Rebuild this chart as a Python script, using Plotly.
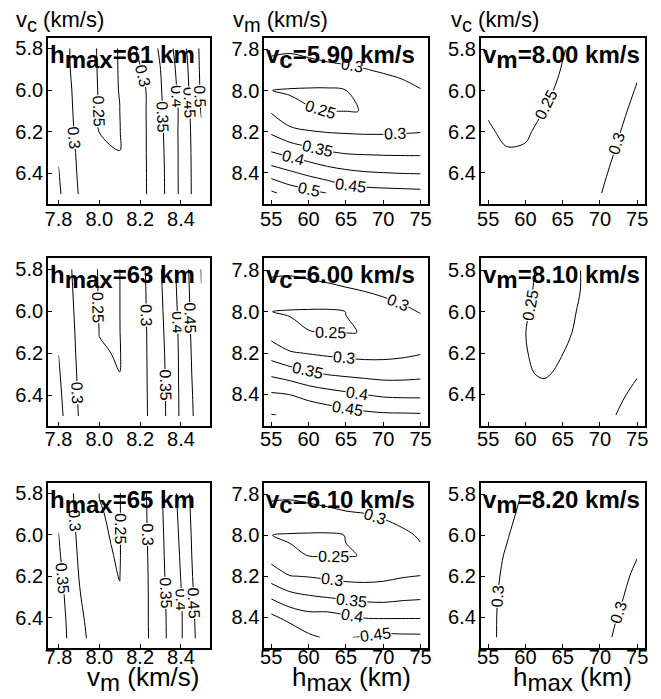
import math
import plotly.graph_objects as go

PAGE_W, PAGE_H = 661, 699
OFF = 8  # the page body places the figure 8 px from the top-left corner
W, H = PAGE_W - OFF, PAGE_H - OFF
FONT = "Liberation Sans, Arial, Helvetica, sans-serif"

# grids
vm_grid = [7.8, 7.9, 8.0, 8.1, 8.2, 8.3, 8.4, 8.5]
vc_grid = [5.8, 5.9, 6.0, 6.1, 6.2, 6.3, 6.4, 6.5]
hmax_grid = [55, 57.5, 60, 62.5, 65, 67.5, 70, 72.5, 75]

# column 1: misfit vs (vm, vc) at fixed hmax ; rows = vc, cols = vm
z_hmax61 = [
    [0.322, 0.282, 0.245, 0.2506, 0.3125, 0.356, 0.428, 0.510],
    [0.326, 0.281, 0.246, 0.2504, 0.2974, 0.3501, 0.419, 0.509],
    [0.330, 0.284, 0.247, 0.2502, 0.2819, 0.3465, 0.414, 0.5066],
    [0.335, 0.285, 0.248, 0.2499, 0.2824, 0.3432, 0.409, 0.503],
    [0.340, 0.287, 0.2495, 0.2491, 0.2828, 0.3401, 0.4106, 0.494],
    [0.346, 0.291, 0.260, 0.2501, 0.2838, 0.3377, 0.410, 0.4916],
    [0.352, 0.294, 0.270, 0.260, 0.2839, 0.3358, 0.4104, 0.4896],
    [0.357, 0.298, 0.280, 0.270, 0.284, 0.335, 0.410, 0.489],
]
z_hmax63 = [
    [0.318, 0.2903, 0.246, 0.2497, 0.2843, 0.3471, 0.4186, 0.5012],
    [0.323, 0.2901, 0.247, 0.2497, 0.2828, 0.3443, 0.4157, 0.4994],
    [0.330, 0.290, 0.248, 0.2497, 0.2823, 0.3414, 0.4129, 0.4972],
    [0.340, 0.290, 0.2495, 0.2495, 0.2819, 0.3384, 0.4109, 0.4941],
    [0.3495, 0.2906, 0.252, 0.2485, 0.2827, 0.3351, 0.4097, 0.4903],
    [0.355, 0.2932, 0.260, 0.2502, 0.2829, 0.3333, 0.4091, 0.4863],
    [0.360, 0.2955, 0.270, 0.258, 0.2831, 0.3315, 0.4085, 0.4813],
    [0.365, 0.298, 0.280, 0.268, 0.2827, 0.3308, 0.4077, 0.4782],
]
z_hmax65 = [
    [0.330, 0.2889, 0.2499, 0.249, 0.2804, 0.3435, 0.416, 0.4951],
    [0.340, 0.2887, 0.25033, 0.249, 0.2795, 0.3416, 0.412, 0.4946],
    [0.351, 0.291, 0.25089, 0.249, 0.2786, 0.3397, 0.4082, 0.4918],
    [0.356, 0.2951, 0.25233, 0.249, 0.2777, 0.338, 0.4047, 0.4902],
    [0.362, 0.2994, 0.25345, 0.2497, 0.2767, 0.3364, 0.4013, 0.4867],
    [0.368, 0.3044, 0.260, 0.251, 0.2773, 0.3341, 0.3975, 0.4822],
    [0.372, 0.310, 0.270, 0.258, 0.2778, 0.3333, 0.3951, 0.4771],
    [0.376, 0.3117, 0.280, 0.266, 0.2775, 0.3324, 0.3953, 0.4734],
]

# column 2: misfit vs (hmax, vm) at fixed vc ; rows = vm, cols = hmax
z_vc590 = [
    [0.310, 0.306, 0.314, 0.324, 0.329, 0.326, 0.330, 0.335, 0.340],
    [0.280, 0.276, 0.279, 0.284, 0.290, 0.298, 0.305, 0.312, 0.320],
    [0.2502, 0.2475, 0.246, 0.245, 0.2495, 0.274, 0.275, 0.285, 0.298],
    [0.295, 0.258, 0.2515, 0.2497, 0.2496, 0.2502, 0.256, 0.265, 0.275],
    [0.342, 0.314, 0.303, 0.2976, 0.2954, 0.2935, 0.2936, 0.2954, 0.2981],
    [0.401, 0.383, 0.367, 0.353, 0.345, 0.3425, 0.341, 0.3405, 0.3404],
    [0.476, 0.457, 0.438, 0.421, 0.410, 0.4033, 0.4001, 0.3976, 0.3964],
    [0.560, 0.529, 0.515, 0.4995, 0.477, 0.470, 0.467, 0.465, 0.4627],
]
z_vc600 = [
    [0.310, 0.308, 0.313, 0.318, 0.322, 0.325, 0.330, 0.335, 0.340],
    [0.280, 0.278, 0.283, 0.288, 0.295, 0.3005, 0.308, 0.315, 0.320],
    [0.2502, 0.2475, 0.246, 0.245, 0.2502, 0.272, 0.280, 0.291, 0.302],
    [0.281, 0.258, 0.2505, 0.2497, 0.249, 0.2507, 0.260, 0.270, 0.280],
    [0.327, 0.3047, 0.2976, 0.2916, 0.2868, 0.2836, 0.2855, 0.290, 0.2972],
    [0.391, 0.375, 0.358, 0.347, 0.3406, 0.3357, 0.3316, 0.3325, 0.3368],
    [0.456, 0.4495, 0.431, 0.419, 0.409, 0.4001, 0.3917, 0.3893, 0.3889],
    [0.502, 0.495, 0.494, 0.481, 0.472, 0.4625, 0.458, 0.457, 0.4556],
]
z_vc610 = [
    [0.310, 0.308, 0.313, 0.318, 0.322, 0.326, 0.330, 0.335, 0.340],
    [0.280, 0.278, 0.283, 0.288, 0.295, 0.298, 0.305, 0.313, 0.323],
    [0.2502, 0.2475, 0.246, 0.245, 0.2506, 0.274, 0.280, 0.292, 0.304],
    [0.2818, 0.2538, 0.2497, 0.2495, 0.249, 0.2507, 0.262, 0.274, 0.2926],
    [0.3265, 0.3014, 0.2976, 0.2916, 0.2854, 0.2847, 0.2891, 0.2966, 0.3002],
    [0.3925, 0.3654, 0.3538, 0.347, 0.340, 0.3344, 0.3323, 0.3386, 0.3422],
    [0.460, 0.4324, 0.4167, 0.4179, 0.4067, 0.3969, 0.3947, 0.3952, 0.3955],
    [0.495, 0.491, 0.4583, 0.445, 0.448, 0.4535, 0.4622, 0.4613, 0.4605],
]

# column 3: misfit vs (hmax, vc) at fixed vm ; rows = vc, cols = hmax
z_vm800 = [
    [0.238, 0.236, 0.236, 0.238, 0.2485, 0.258, 0.268, 0.280, 0.292],
    [0.241, 0.238, 0.238, 0.241, 0.2513, 0.261, 0.272, 0.284, 0.297],
    [0.244, 0.240, 0.240, 0.245, 0.255, 0.264, 0.276, 0.289, 0.302],
    [0.248, 0.243, 0.243, 0.2503, 0.260, 0.268, 0.280, 0.294, 0.307],
    [0.2525, 0.246, 0.247, 0.256, 0.265, 0.273, 0.285, 0.2985, 0.312],
    [0.258, 0.2515, 0.2525, 0.262, 0.271, 0.278, 0.290, 0.303, 0.317],
    [0.264, 0.258, 0.259, 0.268, 0.277, 0.284, 0.295, 0.307, 0.322],
    [0.270, 0.265, 0.266, 0.275, 0.283, 0.290, 0.299, 0.310, 0.327],
]
z_vm810 = [
    [0.268, 0.260, 0.2535, 0.2465, 0.245, 0.2502, 0.258, 0.268, 0.280],
    [0.268, 0.259, 0.2525, 0.246, 0.245, 0.2503, 0.258, 0.268, 0.280],
    [0.268, 0.259, 0.251, 0.246, 0.246, 0.2515, 0.259, 0.269, 0.281],
    [0.268, 0.259, 0.2501, 0.2465, 0.2465, 0.2535, 0.261, 0.271, 0.283],
    [0.269, 0.260, 0.2505, 0.247, 0.2498, 0.256, 0.264, 0.274, 0.287],
    [0.270, 0.262, 0.2515, 0.2485, 0.2525, 0.260, 0.268, 0.284, 0.298],
    [0.272, 0.265, 0.257, 0.255, 0.259, 0.266, 0.275, 0.295, 0.307],
    [0.275, 0.268, 0.262, 0.261, 0.265, 0.274, 0.288, 0.302, 0.316],
]
z_vm820 = [
    [0.320, 0.310, 0.297, 0.288, 0.283, 0.282, 0.284, 0.288, 0.293],
    [0.316, 0.305, 0.294, 0.286, 0.281, 0.280, 0.282, 0.287, 0.294],
    [0.312, 0.3015, 0.290, 0.284, 0.280, 0.279, 0.282, 0.288, 0.297],
    [0.309, 0.298, 0.288, 0.283, 0.280, 0.280, 0.284, 0.291, 0.2995],
    [0.306, 0.2965, 0.288, 0.283, 0.281, 0.282, 0.287, 0.2955, 0.303],
    [0.304, 0.2962, 0.289, 0.284, 0.283, 0.285, 0.291, 0.2975, 0.3065],
    [0.303, 0.2965, 0.290, 0.285, 0.284, 0.287, 0.294, 0.3005, 0.309],
    [0.3025, 0.297, 0.291, 0.286, 0.285, 0.289, 0.2965, 0.302, 0.311],
]

contour_levels = dict(start=0.25, end=0.55, size=0.05)

panel_titles = [
    ["h<sub>max</sub>=61 km", "v<sub>c</sub>=5.90 km/s", "v<sub>m</sub>=8.00 km/s"],
    ["h<sub>max</sub>=63 km", "v<sub>c</sub>=6.00 km/s", "v<sub>m</sub>=8.10 km/s"],
    ["h<sub>max</sub>=65 km", "v<sub>c</sub>=6.10 km/s", "v<sub>m</sub>=8.20 km/s"],
]
panel_z = [
    [z_hmax61, z_vc590, z_vm800],
    [z_hmax63, z_vc600, z_vm810],
    [z_hmax65, z_vc610, z_vm820],
]
col_x = [vm_grid, hmax_grid, hmax_grid]
col_y = [vc_grid, vm_grid, vc_grid]

# where to put the inline contour labels: (level, fixed axis, fixed value, guess on the other axis)
label_spots = [
    [
        [(0.3, "y", 6.23, 7.87), (0.25, "y", 6.10, 7.99), (0.3, "y", 5.93, 8.2),
         (0.35, "y", 6.13, 8.31), (0.4, "y", 6.03, 8.38), (0.45, "y", 6.06, 8.44),
         (0.5, "y", 6.03, 8.49)],
        [(0.3, "x", 65.8, 7.87), (0.25, "x", 61.6, 8.1), (0.3, "x", 71.6, 8.21),
         (0.35, "x", 61.2, 8.28), (0.4, "x", 57.9, 8.33), (0.45, "x", 65.6, 8.46),
         (0.5, "x", 60.1, 8.48)],
        [(0.25, "y", 6.07, 63.3), (0.3, "y", 6.26, 72.6)],
    ],
    [
        [(0.3, "y", 6.39, 7.89), (0.25, "y", 5.98, 7.99), (0.3, "y", 6.02, 8.23),
         (0.35, "y", 6.35, 8.32), (0.4, "y", 6.05, 8.38), (0.45, "y", 6.03, 8.44)],
        [(0.3, "x", 72.0, 7.97), (0.25, "x", 63.0, 8.1), (0.3, "x", 64.7, 8.23),
         (0.35, "x", 59.9, 8.29), (0.4, "x", 66.5, 8.39), (0.45, "x", 65.2, 8.47)],
        [(0.25, "y", 5.97, 60.6)],
    ],
    [
        [(0.35, "y", 6.21, 7.82), (0.3, "y", 5.93, 7.88), (0.25, "y", 5.97, 8.1),
         (0.3, "y", 6.0, 8.235), (0.35, "y", 6.28, 8.32), (0.4, "y", 6.31, 8.4),
         (0.45, "y", 6.33, 8.46)],
        [(0.3, "x", 68.9, 7.9), (0.25, "x", 63.4, 8.1), (0.3, "x", 63.2, 8.23),
         (0.35, "x", 65.8, 8.32), (0.4, "x", 65.8, 8.39), (0.45, "x", 69.0, 8.49)],
        [(0.3, "y", 6.30, 56.3), (0.3, "y", 6.38, 72.6)],
    ],
]

x_ticks = [[7.8, 8.0, 8.2, 8.4], [55, 60, 65, 70, 75], [55, 60, 65, 70, 75]]
y_ticks = [[5.8, 6.0, 6.2, 6.4], [7.8, 8.0, 8.2, 8.4], [5.8, 6.0, 6.2, 6.4]]
x_fmt = [".1f", "d", "d"]
y_fmt = [".1f", ".1f", ".1f"]
x_rng = [[7.749, 8.544], [54.07, 76.02], [54.03, 76.07]]
y_rng = [[6.544, 5.748], [8.55, 7.742], [6.55, 5.742]]

# pixel layout of panels (page pixels)
col_px = [(44.5, 208.5), (263.0, 428.7), (482.0, 648.0)]
row_px = [(37.5, 203.5), (258.3, 425.5), (482.5, 647.7)]
x_standoff = [-4, -6, -10]


def fx(px):
    return (px - OFF) / W


def fy(py):
    return 1 - (py - OFF) / H


def profile(z, xs, ys, axis, v):
    """1-D cut of the grid along a line of constant x or y (linear in between)."""
    if axis == "y":
        for i in range(len(ys) - 1):
            if ys[i] <= v <= ys[i + 1]:
                t = (v - ys[i]) / (ys[i + 1] - ys[i])
                return xs, [z[i][j] * (1 - t) + z[i + 1][j] * t for j in range(len(xs))]
    else:
        for j in range(len(xs) - 1):
            if xs[j] <= v <= xs[j + 1]:
                t = (v - xs[j]) / (xs[j + 1] - xs[j])
                return ys, [z[i][j] * (1 - t) + z[i][j + 1] * t for i in range(len(ys))]
    return [], []


def crossing(z, xs, ys, level, axis, v, guess):
    coords, vals = profile(z, xs, ys, axis, v)
    best = None
    for k in range(len(vals) - 1):
        a, b = vals[k] - level, vals[k + 1] - level
        if a == 0 or a * b < 0:
            c = coords[k] + (coords[k + 1] - coords[k]) * (a / (a - b))
            if best is None or abs(c - guess) < abs(best - guess):
                best = c
    if best is None:
        return None
    return (best, v) if axis == "y" else (v, best)


def fmt_level(lv):
    return ("%.2f" % lv).rstrip("0")


def sub_big(txt, size):
    return txt.replace("<sub>", "<sub><span style='font-size:%dpx'>" % size).replace("</sub>", "</span></sub>")


fig = go.Figure()
layout = dict(
    width=W, height=H, margin=dict(l=0, r=0, t=0, b=0),
    paper_bgcolor="white", plot_bgcolor="white", showlegend=False,
    font=dict(family=FONT, color="black"),
)
annotations = []
k = 0
for r in range(3):
    for c in range(3):
        k += 1
        sfx = "" if k == 1 else str(k)
        xs, ys, z = col_x[c], col_y[c], panel_z[r][c]
        fig.add_trace(go.Contour(
            x=xs, y=ys, z=z,
            xaxis="x" + sfx, yaxis="y" + sfx,
            contours=dict(coloring="lines", showlabels=False, **contour_levels),
            line=dict(width=1),
            colorscale=[[0, "black"], [1, "black"]],
            showscale=False, hoverinfo="skip",
        ))
        x0, x1 = col_px[c]
        y0, y1 = row_px[r]
        layout["xaxis" + sfx] = dict(
            domain=[fx(x0), fx(x1)], range=x_rng[c], anchor="y" + sfx,
            showline=True, mirror=True, linecolor="black", linewidth=2,
            ticks="inside", ticklen=4, tickcolor="black", tickwidth=1,
            tickvals=x_ticks[c], tickformat=x_fmt[c],
            ticklabelstandoff=x_standoff[r],
            tickfont=dict(size=20, color="black", family=FONT),
            showgrid=False, zeroline=False, fixedrange=True,
        )
        layout["yaxis" + sfx] = dict(
            domain=[fy(y1), fy(y0)], range=y_rng[c], anchor="x" + sfx,
            showline=True, mirror=True, linecolor="black", linewidth=2,
            ticks="inside", ticklen=4, tickcolor="black", tickwidth=1,
            tickvals=y_ticks[c], tickformat=y_fmt[c], ticklabelstandoff=-1,
            tickfont=dict(size=20, color="black", family=FONT),
            showgrid=False, zeroline=False, fixedrange=True,
        )
        # inline contour labels
        pxx = (x1 - x0) / (x_rng[c][1] - x_rng[c][0])
        pxy = -(y1 - y0) / (y_rng[c][1] - y_rng[c][0])
        for (lv, ax, v, g) in label_spots[r][c]:
            p = crossing(z, xs, ys, lv, ax, v, g)
            if p is None:
                continue
            d = 0.03 if (ax == "y") else 0.8
            pa = crossing(z, xs, ys, lv, ax, v - d, p[0] if ax == "y" else p[1])
            pb = crossing(z, xs, ys, lv, ax, v + d, p[0] if ax == "y" else p[1])
            ang = 0.0
            if pa is not None and pb is not None:
                dx = (pb[0] - pa[0]) * pxx
                dy = (pb[1] - pa[1]) * pxy
                ang = math.degrees(math.atan2(dy, dx))
            if c == 0:
                while ang < 0:
                    ang += 180
                while ang >= 180:
                    ang -= 180
            else:
                while ang > 90:
                    ang -= 180
                while ang <= -90:
                    ang += 180
            annotations.append(dict(
                text=fmt_level(lv), x=p[0], y=p[1], xref="x" + sfx, yref="y" + sfx,
                showarrow=False, textangle=ang, bgcolor="white", borderpad=0,
                font=dict(size=16, color="black", family=FONT),
            ))

        annotations.append(dict(
            text="<b>" + sub_big(panel_titles[r][c], 24) + "</b>", xref="paper", yref="paper",
            align="left", x=fx(x0), y=fy(y0 + 1), xanchor="left", yanchor="top",
            showarrow=False, font=dict(size=24, color="black", family=FONT),
        ))

top_titles = ["v<sub>c</sub> (km/s)", "v<sub>m</sub> (km/s)", "v<sub>c</sub> (km/s)"]
top_x = [10.0, 229.0, 450.0]
for txt, xp in zip(top_titles, top_x):
    annotations.append(dict(
        text=sub_big(txt, 20), xref="paper", yref="paper", x=fx(xp), y=fy(22),
        xanchor="left", yanchor="middle", align="left", showarrow=False,
        font=dict(size=22, color="black", family=FONT)))

bot_titles = ["v<sub>m</sub> (km/s)", "h<sub>max</sub> (km)", "h<sub>max</sub> (km)"]
bot_x = [140.0, 351.0, 575.0]
for txt, xp in zip(bot_titles, bot_x):
    annotations.append(dict(
        text=sub_big(txt, 24), xref="paper", yref="paper", x=fx(xp), y=fy(679),
        xanchor="center", yanchor="middle", showarrow=False,
        font=dict(size=26, color="black", family=FONT)))

layout["annotations"] = annotations
fig.update_layout(**layout)
fig.write_html("out.html")
